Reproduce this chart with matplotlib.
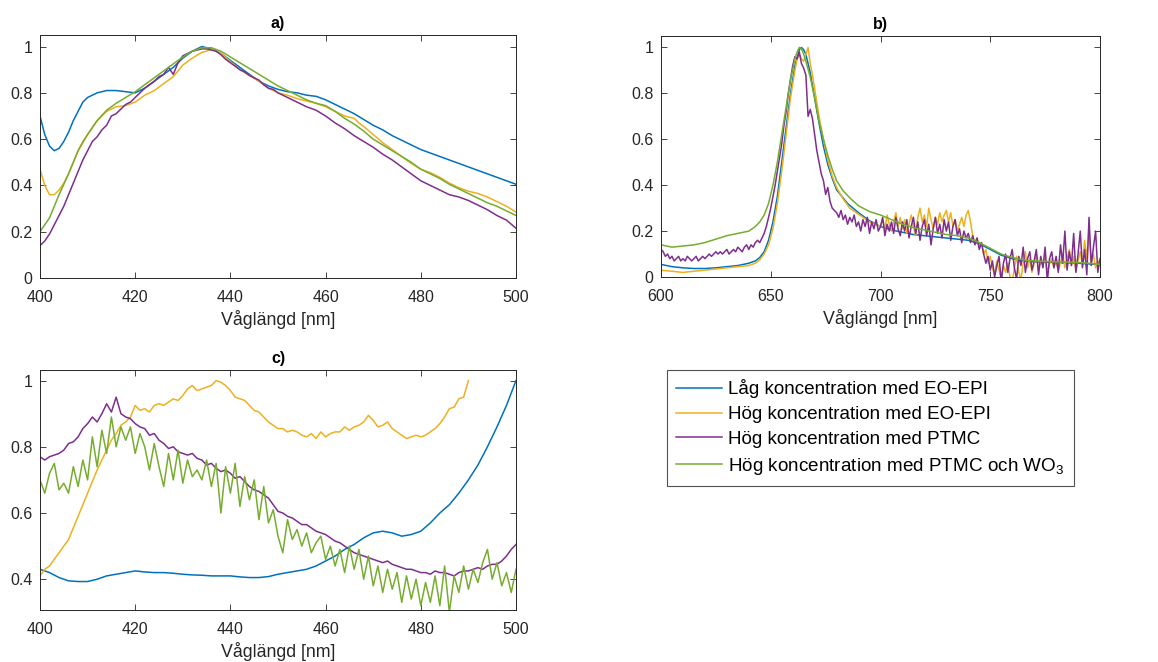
import numpy as np
import matplotlib
matplotlib.use("Agg")
import matplotlib.pyplot as plt
from matplotlib.ticker import FuncFormatter

plt.rcParams['font.family'] = ['Liberation Sans', 'DejaVu Sans']
plt.rcParams['mathtext.fontset'] = 'custom'
plt.rcParams['mathtext.rm'] = 'Liberation Sans'

C_BLUE = '#0072BD'
C_YEL = '#EDB120'
C_PUR = '#7E2F8E'
C_GRN = '#77AC30'

labels = ['Låg koncentration med EO-EPI',
          'Hög koncentration med EO-EPI',
          'Hög koncentration med PTMC',
          'Hög koncentration med PTMC och WO$_3$']
xlabel_text = 'Våglängd [nm]'
titles = ['a)', 'b)', 'c)']

# ---------------- panel a ----------------
wl_a_blue = [400, 401, 402, 403, 404, 405, 406, 407, 408, 409, 410, 412, 414, 416, 418, 420, 422, 424, 426, 428,
             430, 432, 434, 436, 438, 440, 442, 444, 446, 448, 450, 452, 454, 456, 458, 460, 462, 464, 466, 468,
             470, 472, 474, 476, 478, 480, 482, 484, 486, 488, 490, 492, 494, 496, 498, 500]
a_blue = [0.70, 0.62, 0.57, 0.55, 0.56, 0.59, 0.63, 0.68, 0.72, 0.76, 0.78, 0.80, 0.81, 0.81, 0.805, 0.80, 0.82,
          0.85, 0.88, 0.91, 0.95, 0.98, 1.0, 0.99, 0.97, 0.94, 0.91, 0.88, 0.85, 0.83, 0.815, 0.805, 0.80, 0.79,
          0.785, 0.77, 0.75, 0.73, 0.71, 0.685, 0.66, 0.64, 0.615, 0.595, 0.575, 0.555, 0.54, 0.525, 0.51, 0.495,
          0.48, 0.465, 0.45, 0.435, 0.42, 0.405]

wl_a_yel = [400, 401, 402, 403, 404, 405, 406, 407, 408, 409, 410, 412, 414, 416, 418, 420, 422, 424, 426, 428,
            430, 432, 434, 435, 436, 438, 440, 442, 444, 446, 448, 450, 452, 454, 456, 458, 460, 462, 464, 466,
            467, 468, 470, 472, 474, 476, 478, 480, 482, 484, 486, 488, 490, 492, 494, 496, 498, 500]
a_yel = [0.47, 0.40, 0.36, 0.36, 0.38, 0.41, 0.45, 0.50, 0.55, 0.59, 0.62, 0.68, 0.72, 0.74, 0.745, 0.76, 0.79,
         0.81, 0.84, 0.87, 0.92, 0.95, 0.975, 0.98, 0.99, 0.97, 0.935, 0.90, 0.875, 0.85, 0.82, 0.80, 0.79, 0.775,
         0.765, 0.755, 0.74, 0.72, 0.70, 0.69, 0.67, 0.655, 0.62, 0.585, 0.555, 0.525, 0.495, 0.47, 0.455, 0.435,
         0.41, 0.39, 0.375, 0.365, 0.35, 0.33, 0.31, 0.285]

wl_a_pur = [400, 401, 402, 403, 404, 405, 406, 407, 408, 409, 410, 411, 412, 413, 414, 415, 416, 417, 418, 419,
            420, 421, 422, 423, 424, 425, 426, 427, 428, 429, 430, 431, 432, 433, 434, 435, 436, 437, 438, 439,
            440, 441, 442, 443, 444, 445, 446, 447, 448, 449, 450, 452, 454, 456, 458, 460, 462, 464, 466, 468,
            470, 472, 474, 476, 478, 480, 482, 484, 486, 488, 490, 492, 494, 496, 498, 500]
a_pur = [0.14, 0.16, 0.19, 0.23, 0.27, 0.31, 0.36, 0.41, 0.46, 0.51, 0.55, 0.59, 0.61, 0.64, 0.66, 0.70, 0.71,
         0.73, 0.75, 0.76, 0.78, 0.80, 0.82, 0.835, 0.85, 0.87, 0.88, 0.91, 0.88, 0.93, 0.96, 0.97, 0.98, 0.985,
         0.99, 0.99, 0.985, 0.98, 0.965, 0.945, 0.93, 0.915, 0.90, 0.89, 0.875, 0.865, 0.855, 0.835, 0.82, 0.815,
         0.80, 0.78, 0.76, 0.74, 0.725, 0.70, 0.67, 0.645, 0.615, 0.59, 0.565, 0.535, 0.51, 0.48, 0.45, 0.42,
         0.40, 0.38, 0.36, 0.35, 0.335, 0.315, 0.295, 0.27, 0.25, 0.215]

wl_a_grn = [400, 402, 404, 406, 408, 410, 412, 414, 416, 418, 420, 422, 424, 426, 428, 430, 432, 434, 436, 438,
            440, 442, 444, 446, 448, 450, 452, 454, 456, 458, 460, 462, 464, 466, 468, 470, 472, 474, 476, 478,
            480, 482, 484, 486, 488, 490, 492, 494, 496, 498, 500]
a_grn = [0.20, 0.26, 0.36, 0.45, 0.55, 0.62, 0.68, 0.725, 0.755, 0.78, 0.805, 0.835, 0.865, 0.895, 0.925, 0.955,
         0.98, 0.995, 0.995, 0.98, 0.955, 0.93, 0.905, 0.88, 0.855, 0.83, 0.81, 0.79, 0.77, 0.755, 0.745, 0.72,
         0.69, 0.665, 0.635, 0.60, 0.575, 0.55, 0.525, 0.50, 0.47, 0.45, 0.43, 0.405, 0.385, 0.365, 0.345, 0.325,
         0.31, 0.29, 0.27]

# ---------------- panel b ----------------
wl_b_blue = [600, 605, 610, 615, 620, 625, 630, 635, 640, 643, 645, 647, 649, 651, 653, 655, 657, 659, 661, 663,
             664, 665, 666, 668, 670, 672, 674, 676, 678, 680, 685, 690, 695, 700, 705, 710, 715, 720, 725, 730,
             735, 740, 745, 750, 755, 760, 765, 770, 775, 780, 785, 790, 795, 800]
b_blue = [0.055, 0.045, 0.04, 0.037, 0.037, 0.04, 0.045, 0.05, 0.06, 0.07, 0.085, 0.11, 0.16, 0.24, 0.35, 0.50,
          0.65, 0.80, 0.92, 0.99, 1.0, 0.99, 0.97, 0.89, 0.78, 0.67, 0.57, 0.49, 0.43, 0.38, 0.32, 0.28, 0.245,
          0.22, 0.205, 0.195, 0.185, 0.18, 0.175, 0.17, 0.165, 0.16, 0.145, 0.12, 0.095, 0.08, 0.07, 0.066, 0.064,
          0.063, 0.062, 0.06, 0.057, 0.055]

wl_b_yel = [600, 605, 610, 615, 620, 625, 630, 635, 640, 643, 645, 647, 649, 651, 653, 655, 657, 659, 661, 662,
            663, 664, 665, 666, 667, 668, 669, 670, 672, 674, 676, 678, 680, 683, 686, 689, 692, 695, 698] + \
           list(range(700, 801))
b_yel = [0.03, 0.025, 0.02, 0.025, 0.03, 0.035, 0.04, 0.045, 0.05, 0.06, 0.075, 0.10, 0.14, 0.21, 0.32, 0.46,
         0.62, 0.78, 0.90, 0.95, 0.97, 0.95, 0.94, 0.97, 1.0, 0.93, 0.88, 0.82, 0.70, 0.60, 0.51, 0.44, 0.39,
         0.34, 0.30, 0.28, 0.26, 0.24, 0.23,
         0.22, 0.25, 0.21, 0.27, 0.23, 0.20, 0.24, 0.28, 0.22, 0.26,
         0.21, 0.25, 0.19, 0.23, 0.27, 0.22, 0.18, 0.26, 0.30, 0.24,
         0.27, 0.22, 0.30, 0.25, 0.21, 0.26, 0.23, 0.28, 0.24, 0.27,
         0.29, 0.24, 0.28, 0.22, 0.25, 0.20, 0.23, 0.26, 0.22, 0.27,
         0.29, 0.24, 0.18, 0.15, 0.17, 0.13, 0.15, 0.10, 0.12, 0.06,
         0.09, 0.04, 0.01, 0.07, 0.03, -0.01, 0.05, 0.02, 0.06, 0.00,
         -0.02, 0.04, 0.09, 0.02, -0.01, 0.06, 0.11, 0.04, 0.08, 0.02,
         0.06, 0.10, 0.03, 0.07, 0.05, 0.09, 0.02, 0.06, 0.08, 0.04,
         0.07, 0.03, 0.06, 0.10, 0.04, 0.08, 0.12, 0.05, 0.09, 0.03,
         0.07, 0.11, 0.05, 0.16, 0.08, 0.21, 0.06, 0.10, 0.04, 0.07,
         0.05]

wl_b_pur = list(range(600, 801))
b_pur = [0.12, 0.11, 0.09, 0.10, 0.08, 0.09, 0.07, 0.08, 0.09, 0.07,
         0.08, 0.07, 0.09, 0.08, 0.07, 0.08, 0.09, 0.07, 0.08, 0.09,
         0.08, 0.09, 0.10, 0.09, 0.10, 0.11, 0.10, 0.11, 0.10, 0.11,
         0.12, 0.10, 0.11, 0.12, 0.11, 0.13, 0.12, 0.11, 0.13, 0.14,
         0.12, 0.14, 0.13, 0.15, 0.16, 0.15, 0.17, 0.19, 0.22, 0.26,
         0.30, 0.35, 0.40, 0.46, 0.52, 0.58, 0.66, 0.72, 0.80, 0.86,
         0.92, 0.96, 0.95, 0.98, 0.93, 0.91, 0.88, 0.70, 0.73, 0.69,
         0.62, 0.55, 0.50, 0.45, 0.42, 0.36, 0.39, 0.33, 0.30, 0.29,
         0.28, 0.26, 0.29, 0.25, 0.27, 0.23, 0.26, 0.24, 0.27, 0.22,
         0.24, 0.20, 0.25, 0.22, 0.26, 0.19, 0.24, 0.21, 0.25, 0.20,
         0.22, 0.26, 0.18, 0.23, 0.20, 0.24, 0.19, 0.26, 0.21, 0.18,
         0.24, 0.20, 0.25, 0.17, 0.22, 0.26, 0.19, 0.24, 0.16, 0.22,
         0.25, 0.18, 0.23, 0.14, 0.21, 0.26, 0.19, 0.23, 0.17, 0.25,
         0.20, 0.24, 0.16, 0.22, 0.25, 0.18, 0.21, 0.15, 0.20, 0.17,
         0.19, 0.15, 0.18, 0.14, 0.17, 0.12, 0.15, 0.10, 0.06, 0.09,
         0.03, 0.07, 0.00, 0.05, 0.09, -0.02, 0.06, 0.10, 0.02, 0.08,
         0.12, 0.04, -0.01, 0.09, 0.05, 0.13, 0.02, 0.08, 0.11, 0.03,
         0.07, 0.12, 0.01, 0.09, 0.04, 0.13, -0.02, 0.08, 0.11, 0.04,
         0.09, 0.02, 0.14, 0.06, 0.20, 0.03, 0.11, 0.05, 0.19, 0.02,
         0.10, 0.20, 0.04, 0.12, 0.01, 0.26, 0.05, 0.13, 0.20, 0.02,
         0.08]

wl_b_grn = [600, 605, 610, 615, 620, 625, 630, 635, 640, 643, 645, 647, 649, 651, 653, 655, 657, 659, 661, 662,
            663, 664, 665, 666, 668, 670, 672, 674, 676, 678, 680, 683, 686, 690, 695, 700, 705, 710, 715, 720,
            725, 730, 735, 740, 745, 750, 755, 760, 765, 770, 775, 780, 785, 790, 795, 800]
b_grn = [0.14, 0.13, 0.135, 0.14, 0.15, 0.165, 0.18, 0.19, 0.20, 0.22, 0.24, 0.27, 0.32, 0.40, 0.50, 0.62, 0.74,
         0.86, 0.95, 0.98, 1.0, 0.995, 0.97, 0.94, 0.87, 0.78, 0.68, 0.60, 0.53, 0.47, 0.42, 0.375, 0.345, 0.31,
         0.285, 0.27, 0.25, 0.23, 0.215, 0.205, 0.195, 0.185, 0.18, 0.17, 0.15, 0.125, 0.10, 0.085, 0.075, 0.07,
         0.068, 0.066, 0.065, 0.063, 0.06, 0.055]

# ---------------- panel c ----------------
wl_c_blue = list(range(400, 501, 2))
c_blue = [0.43, 0.42, 0.405, 0.395, 0.393, 0.393, 0.40, 0.41, 0.415, 0.42, 0.425, 0.422, 0.42, 0.42, 0.418,
          0.415, 0.413, 0.412, 0.41, 0.41, 0.41, 0.407, 0.405, 0.405, 0.408, 0.415, 0.42, 0.425, 0.43, 0.44,
          0.455, 0.47, 0.49, 0.505, 0.525, 0.54, 0.545, 0.54, 0.53, 0.535, 0.545, 0.57, 0.60, 0.625, 0.66, 0.70,
          0.745, 0.80, 0.86, 0.925, 1.0]

wl_c_yel = list(range(400, 491))
c_yel = [0.41, 0.43, 0.44, 0.46, 0.48, 0.50, 0.52, 0.555, 0.59, 0.625,
         0.66, 0.695, 0.73, 0.76, 0.79, 0.82, 0.84, 0.865, 0.875, 0.89,
         0.925, 0.91, 0.915, 0.905, 0.925, 0.93, 0.925, 0.935, 0.945, 0.94,
         0.955, 0.975, 0.985, 0.97, 0.975, 0.98, 0.985, 1.0, 0.995, 0.985,
         0.97, 0.95, 0.945, 0.94, 0.925, 0.91, 0.905, 0.89, 0.875, 0.865,
         0.855, 0.855, 0.845, 0.85, 0.845, 0.835, 0.83, 0.84, 0.825, 0.845,
         0.83, 0.84, 0.845, 0.845, 0.86, 0.85, 0.86, 0.865, 0.875, 0.895,
         0.88, 0.86, 0.865, 0.875, 0.855, 0.845, 0.835, 0.825, 0.83, 0.835,
         0.83, 0.835, 0.845, 0.855, 0.87, 0.89, 0.915, 0.92, 0.945, 0.95,
         1.0]

wl_c_pur = list(range(400, 501))
c_pur = [0.77, 0.76, 0.77, 0.775, 0.78, 0.79, 0.81, 0.815, 0.83, 0.855,
         0.87, 0.89, 0.875, 0.90, 0.93, 0.905, 0.95, 0.90, 0.89, 0.885,
         0.87, 0.86, 0.855, 0.835, 0.84, 0.82, 0.81, 0.795, 0.80, 0.785,
         0.78, 0.775, 0.78, 0.765, 0.76, 0.745, 0.75, 0.735, 0.725, 0.73,
         0.72, 0.705, 0.71, 0.695, 0.68, 0.67, 0.665, 0.655, 0.645, 0.625,
         0.605, 0.60, 0.59, 0.585, 0.575, 0.565, 0.565, 0.555, 0.545, 0.54,
         0.535, 0.525, 0.515, 0.51, 0.50, 0.49, 0.48, 0.475, 0.47, 0.465,
         0.46, 0.455, 0.45, 0.455, 0.445, 0.44, 0.435, 0.43, 0.43, 0.425,
         0.42, 0.42, 0.415, 0.425, 0.42, 0.42, 0.415, 0.41, 0.42, 0.425,
         0.425, 0.43, 0.435, 0.43, 0.44, 0.445, 0.445, 0.455, 0.47, 0.49,
         0.505]

wl_c_grn = list(range(400, 501))
c_grn = [0.70, 0.66, 0.72, 0.75, 0.67, 0.69, 0.66, 0.74, 0.68, 0.76,
         0.70, 0.83, 0.74, 0.85, 0.78, 0.89, 0.80, 0.86, 0.82, 0.86,
         0.78, 0.84, 0.80, 0.73, 0.81, 0.74, 0.68, 0.78, 0.70, 0.79,
         0.69, 0.76, 0.71, 0.73, 0.70, 0.76, 0.68, 0.75, 0.60, 0.74,
         0.66, 0.75, 0.62, 0.71, 0.64, 0.70, 0.58, 0.68, 0.57, 0.61,
         0.53, 0.48, 0.58, 0.52, 0.55, 0.50, 0.54, 0.48, 0.51, 0.53,
         0.46, 0.50, 0.44, 0.49, 0.42, 0.50, 0.43, 0.49, 0.40, 0.47,
         0.38, 0.44, 0.36, 0.43, 0.37, 0.42, 0.33, 0.41, 0.34, 0.40,
         0.32, 0.39, 0.33, 0.41, 0.32, 0.44, 0.30, 0.41, 0.36, 0.44,
         0.37, 0.43, 0.39, 0.45, 0.49, 0.40, 0.45, 0.38, 0.42, 0.36,
         0.43]

# ---------------- drawing ----------------
W, H = 1158, 662
fig = plt.figure(figsize=(W / 100, H / 100), dpi=100)


def ax_at(l, t, r, b):
    return fig.add_axes([l / W, 1 - b / H, (r - l) / W, (b - t) / H])


axA = ax_at(40, 35, 516, 278)
axB = ax_at(661, 36, 1100, 277)
axC = ax_at(40, 370, 516, 610)

TXT = '#262626'
fmt = FuncFormatter(lambda v, p: '%g' % round(v, 6))

panels = [
    (axA, [(wl_a_blue, a_blue), (wl_a_yel, a_yel), (wl_a_pur, a_pur), (wl_a_grn, a_grn)],
     (400, 500), (0, 1.05), [400, 420, 440, 460, 480, 500], [0, 0.2, 0.4, 0.6, 0.8, 1]),
    (axB, [(wl_b_blue, b_blue), (wl_b_yel, b_yel), (wl_b_pur, b_pur), (wl_b_grn, b_grn)],
     (600, 800), (0, 1.05), [600, 650, 700, 750, 800], [0, 0.2, 0.4, 0.6, 0.8, 1]),
    (axC, [(wl_c_blue, c_blue), (wl_c_yel, c_yel), (wl_c_pur, c_pur), (wl_c_grn, c_grn)],
     (400, 500), (0.307, 1.032), [400, 420, 440, 460, 480, 500], [0.4, 0.6, 0.8, 1]),
]
colors = [C_BLUE, C_YEL, C_PUR, C_GRN]

handles = None
for (ax, series, xl, yl, xt, yt), title in zip(panels, titles):
    hs = []
    for (x, y), c, lab in zip(series, colors, labels):
        h, = ax.plot(x, y, color=c, lw=1.1, label=lab)
        hs.append(h)
    if handles is None:
        handles = hs
    ax.set_xlim(*xl)
    ax.set_ylim(*yl)
    ax.set_xticks(xt)
    ax.set_yticks(yt)
    ax.xaxis.set_major_formatter(fmt)
    ax.yaxis.set_major_formatter(fmt)
    ax.tick_params(direction='in', top=True, right=True, length=4, width=0.6,
                   colors=TXT, labelsize=11.5)
    ax.tick_params(axis='x', pad=8.5)
    ax.tick_params(axis='y', pad=5.5)
    for s in ax.spines.values():
        s.set_color(TXT)
        s.set_linewidth(0.7)
    ax.set_xlabel(xlabel_text, fontsize=12.8, color=TXT, labelpad=4)
    ax.set_title(title, fontsize=11.5, fontweight='bold', color='black', pad=5)

leg = fig.legend(handles, labels, loc='upper left', bbox_to_anchor=(667 / W, 1 - 370 / H),
                 fontsize=13.6, frameon=True, fancybox=False, edgecolor=TXT, handlelength=2.4,
                 handletextpad=0.35, borderpad=0.5, labelspacing=0.4, borderaxespad=0)
leg.get_frame().set_linewidth(0.8)
for t in leg.get_texts():
    t.set_color('black')

fig.savefig('out.png', dpi=100, facecolor='white')
